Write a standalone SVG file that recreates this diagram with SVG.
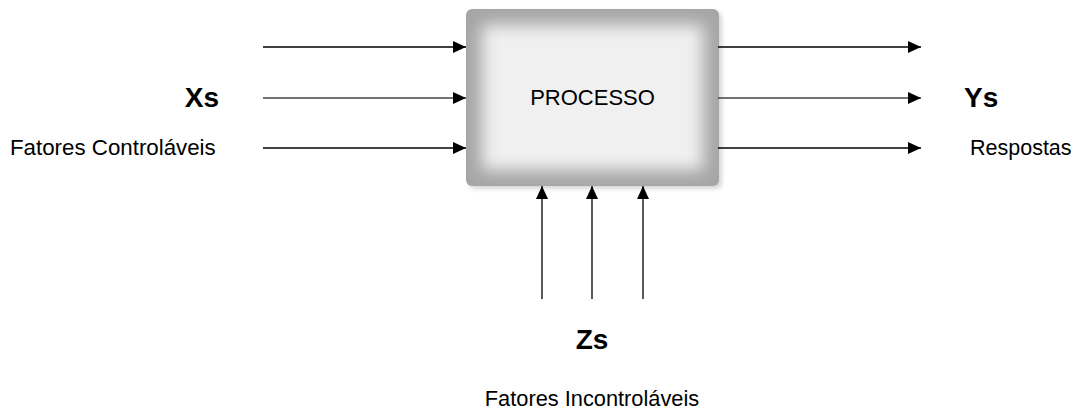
<svg xmlns="http://www.w3.org/2000/svg" width="1078" height="412" viewBox="0 0 1078 412">
  <style>
    .lbl { font-family: "Liberation Sans", Arial, sans-serif; font-size: 21.5px; fill: #000; }
    .big { font-family: "Liberation Sans", Arial, sans-serif; font-size: 28px; font-weight: bold; fill: #000; }
    .wire { stroke: #000; stroke-width: 1.3; fill: none; marker-end: url(#head); }
    .wire.mid { stroke: #444; stroke-width: 1.6; }
  </style>
  <defs>
    <marker id="head" markerUnits="userSpaceOnUse" markerWidth="13" markerHeight="12" refX="13" refY="6" orient="auto">
      <path d="M0,0 L13,6 L0,12 Z" fill="#000"/>
    </marker>
    <filter id="soft" x="-30%" y="-30%" width="160%" height="160%">
      <feGaussianBlur stdDeviation="8"/>
    </filter>
    <filter id="drop" x="-10%" y="-10%" width="130%" height="130%">
      <feGaussianBlur stdDeviation="2"/>
    </filter>
    <clipPath id="boxClip">
      <rect x="466" y="9" width="253" height="177" rx="6"/>
    </clipPath>
  </defs>

  <!-- process block with shaded bevel -->
  <g id="processo">
    <rect x="469" y="12" width="253" height="177" rx="6" fill="#bdbdbd" opacity="0.6" filter="url(#drop)"/>
    <rect x="466" y="9" width="253" height="177" rx="6" fill="#a6a6a6"/>
    <g clip-path="url(#boxClip)">
      <rect x="482" y="25" width="221" height="145" fill="#f0f0f0" filter="url(#soft)"/>
    </g>
    <text class="lbl" x="592.5" y="105" text-anchor="middle" style="font-size:22px">PROCESSO</text>
  </g>

  <!-- arrows -->
  <g id="connectors">
    <line class="wire" x1="263" y1="47" x2="466" y2="47"/>
    <line class="wire mid" x1="263" y1="98" x2="466" y2="98"/>
    <line class="wire" x1="263" y1="148" x2="466" y2="148"/>
    <line class="wire" x1="718" y1="47" x2="921" y2="47"/>
    <line class="wire mid" x1="718" y1="98" x2="921" y2="98"/>
    <line class="wire" x1="718" y1="148" x2="921" y2="148"/>
    <line class="wire" x1="542" y1="299" x2="542" y2="186"/>
    <line class="wire" x1="592" y1="299" x2="592" y2="186"/>
    <line class="wire" x1="643" y1="299" x2="643" y2="186"/>
  </g>

  <g id="xs">
    <text class="big" x="219" y="107" text-anchor="end">Xs</text>
    <text class="lbl" x="10" y="155" style="font-size:22.3px">Fatores Controláveis</text>
  </g>
  <g id="ys">
    <text class="big" x="964" y="107">Ys</text>
    <text class="lbl" x="970" y="155">Respostas</text>
  </g>
  <g id="zs">
    <text class="big" x="592" y="349" text-anchor="middle">Zs</text>
    <text class="lbl" x="592" y="406" text-anchor="middle" style="font-size:21.8px">Fatores Incontroláveis</text>
  </g>
</svg>
